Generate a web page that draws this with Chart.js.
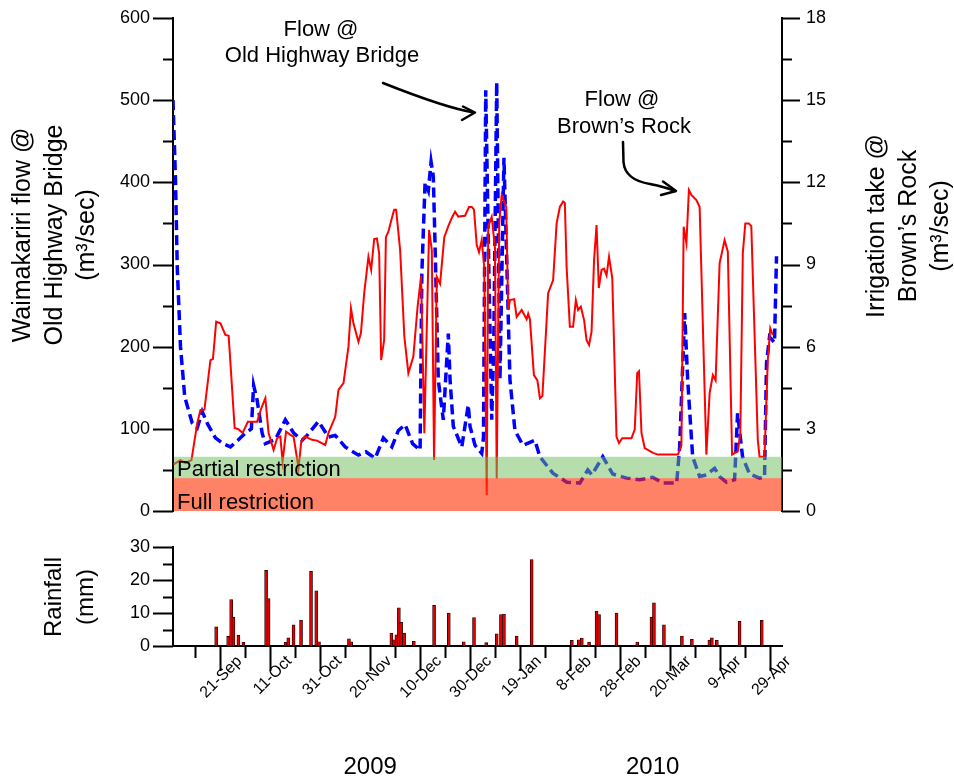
<!DOCTYPE html>
<html>
<head>
<meta charset="utf-8">
<script src="https://cdn.jsdelivr.net/npm/chart.js@4.4.1/dist/chart.umd.min.js"></script>
<style>
  html, body { margin: 0; padding: 0; background: #fff; }
  #wrap { position: relative; width: 954px; height: 778px; }
  #topChart { position: absolute; left: 0; top: 0; }
  #rainChart { position: absolute; left: 0; top: 530px; }
</style>
</head>
<body>
<div id="wrap">
  <canvas id="topChart" width="954" height="530" style="width:954px;height:530px"></canvas>
  <canvas id="rainChart" width="954" height="248" style="width:954px;height:248px"></canvas>
</div>
<script>
// days counted from 1 Sep 2009
const flowDays = [1, 2, 2.7, 4, 5.7, 8.7, 10.7, 12.7, 15, 18, 21, 24, 27, 30, 32.4, 33.3, 34.7, 36.7, 38, 42,
  46, 49.3, 52.7, 54.7, 59.3, 63.3, 66, 70, 75.3, 78.3, 82, 85.3, 88.7, 91.3, 94, 97, 100, 100.7, 102, 103.3,
  104.4, 105.3, 106, 107.3, 109.3, 111.3, 112, 113.3, 116.7, 119.3, 120, 122, 124.7, 125.4, 126.3, 127.5, 128.7, 129.5, 130.7, 132,
  133.6, 136, 138, 141.2, 146, 148, 153.2, 158.8, 164, 167.2, 168.8, 173.2, 177.2, 182.8, 188, 193.2, 197.2, 202.8, 204, 206,
  207.2, 209.2, 212, 214.8, 218, 220, 222.8, 226, 227.2, 229.2, 232, 236, 238, 238.8, 240, 242, 242.8];
const flowValues = [500, 403, 297, 200, 139, 107, 101, 121, 105, 89, 82, 78, 86, 95, 100, 153, 135, 95, 82, 87,
  111, 95, 86, 92, 109, 90, 92, 78, 68, 72, 64, 89, 78, 98, 105, 82, 74, 289, 400, 390,
  425, 407, 323, 159, 111, 216, 160, 103, 78, 129, 103, 80, 70, 90, 512, 300, 111, 200, 522, 160,
  430, 160, 98, 80, 86, 66, 46, 35, 34, 50, 44, 66, 45, 40, 38, 41, 34, 34, 78, 241,
  160, 66, 42, 44, 52, 42, 35, 38, 119, 66, 45, 40, 41, 180, 212, 205, 310];

const takeDays = [1.2, 4, 6, 8.4, 10.7, 12, 13.6, 16, 17, 18.3, 20, 22, 23.3, 25.7, 27.3, 28.9, 31, 34.7, 36.4, 38,
  39.3, 41.3, 42.7, 44, 44.9, 46.3, 48, 49.3, 51.3, 52.4, 54, 56.7, 58.7, 62, 63.3, 66, 67.3, 69.3, 71.3, 72.3,
  73.3, 75.3, 76.3, 77.6, 79.3, 80.4, 81.6, 82.7, 83.6, 84.4, 85.6, 86.3, 87.3, 88.7, 89.6, 90.4, 92, 93.7, 95.3, 97.3,
  99, 100.4, 101.7, 103.6, 104.7, 105.6, 106.7, 108, 109.7, 111.3, 112.7, 114, 115.3, 118, 119.6, 120.7, 121.6, 122.7, 123.6, 124.7,
  125.7, 126.7, 127.3, 128.7, 130, 130.7, 131.7, 132.7, 134.5, 135.3, 136, 137.7, 138.7, 140.7, 142.7, 143.3, 144, 145.6, 147, 148,
  149, 150.7, 151.3, 153.3, 154.7, 156, 157.3, 158, 158.7, 160, 161.3, 162.4, 163.3, 164.4, 165.7, 166.7, 167.7, 168.7, 169.7, 170.7,
  171.6, 172.7, 173.7, 174.7, 175.7, 177, 178.7, 179.7, 181, 184.7, 186, 187, 187.7, 188.7, 190, 193.3, 195.3, 203.3, 204.7, 205.6,
  206.7, 207.7, 208.7, 210.7, 212, 214.7, 216, 217.3, 218.4, 220, 222, 223.3, 225, 227.3, 228.3, 229.3, 230.3, 231.7, 232.7, 235.3,
  236, 238, 239.3, 240.3, 241.3];
const takeValues = [1.7, 1.86, 1.75, 1.86, 3.2, 3.69, 3.7, 5.51, 5.55, 6.91, 6.85, 6.43, 6.4, 3.03, 2.98, 2.85, 3.26, 3.26, 3.76, 4.12,
  2.85, 2.23, 2.66, 2.72, 1.8, 2.9, 2.78, 2.72, 1.57, 2.54, 2.72, 2.6, 2.57, 2.41, 2.85, 3.44, 4.42, 4.67, 6.0, 7.4,
  6.85, 6.18, 6.5, 7.95, 9.28, 8.8, 9.93, 9.95, 9.41, 5.51, 6.24, 10.0, 10.2, 10.7, 11.0, 11.0, 9.53, 6.36, 5.03, 5.64,
  7.46, 8.58, 2.84, 10.26, 9.53, 1.86, 8.55, 8.3, 10.0, 10.4, 10.7, 10.93, 10.75, 10.78, 11.1, 11.1, 11.0, 9.71, 9.45, 9.9,
  8.9, 0.58, 10.4, 10.74, 9.6, 1.2, 10.5, 11.54, 11.1, 7.34, 7.7, 7.73, 7.09, 7.34, 7.0, 7.2, 7.0, 4.96, 4.77, 4.12,
  4.2, 6.97, 7.95, 8.43, 10.5, 11.1, 11.3, 11.25, 8.92, 6.73, 6.73, 7.7, 7.34, 7.46, 6.97, 6.24, 6.06, 6.55, 9.16, 10.44,
  8.14, 8.8, 8.85, 8.6, 9.28, 8.5, 2.71, 2.48, 2.66, 2.66, 2.97, 5.03, 5.1, 2.85, 2.3, 2.12, 2.06, 2.06, 2.4, 10.38,
  9.78, 11.72, 11.54, 11.35, 11.1, 2.06, 4.3, 4.96, 4.77, 9.04, 9.89, 9.47, 2.06, 2.18, 2.84, 9.41, 10.5, 10.5, 10.4, 2.6,
  1.98, 1.98, 5.5, 6.67, 6.43];

const rainDays = [18.3, 23.1, 24.3, 25.2, 27.2, 29.2, 38.3, 39.3, 46.1, 47.2, 49.3, 52.3, 56.3, 58.4, 59.5, 71.5, 72.4, 88.5, 89.5, 90.5,
  91.5, 92.4, 93.6, 97.5, 105.6, 111.5, 117.5, 121.6, 126.5, 130.7, 132.4, 133.6, 138.7, 144.7, 160.8, 163.6, 164.8, 167.7, 170.7, 171.7,
  178.7, 187, 192.7, 193.7, 197.7, 204.9, 208.9, 215.9, 216.9, 218.9, 228, 236.9];
const rainValues = [5.8, 2.9, 14.1, 8.8, 3.3, 1.1, 22.9, 14.4, 1.1, 2.5, 6.4, 7.8, 22.6, 16.7, 1.3, 2.2, 1.3, 3.9, 1.9, 3.4,
  11.6, 7.2, 3.9, 1.4, 12.3, 10.0, 1.3, 8.6, 1.0, 3.7, 9.5, 9.7, 3.0, 26.2, 1.7, 1.9, 2.4, 1.2, 10.6, 9.5,
  10.0, 1.2, 8.7, 13.1, 6.4, 3.0, 2.0, 1.8, 2.5, 1.7, 7.5, 7.8];

const tickDays = [20, 40, 60, 80, 100, 120, 140, 160, 180, 200, 220, 240];
const tickLabels = ['21-Sep', '11-Oct', '31-Oct', '20-Nov', '10-Dec', '30-Dec', '19-Jan', '8-Feb', '28-Feb', '20-Mar', '9-Apr', '29-Apr'];
const yearLabels = ['2009', '2010'];
const yearDays = [80, 193.2];

const fullRestriction = 40;     // m3/s
const partialRestriction = 66;  // m3/s

const FONT = "'Liberation Sans', Arial, Helvetica, sans-serif";
Chart.defaults.font.family = FONT;
Chart.defaults.color = '#000';

function pairs(xs, ys) { return xs.map((x, i) => ({ x: x, y: ys[i] })); }

// fixed axis width, and no extra label padding above/below the plot
function fixWidth(w) {
  return s => { s.width = w; s.paddingTop = 0; s.paddingBottom = 0; };
}

function tickMarks(ctx, scale, from, to, step, majorEvery, majorLen, minorLen, dir) {
  ctx.save();
  ctx.strokeStyle = '#000';
  ctx.lineWidth = 2;
  ctx.beginPath();
  for (let v = from; v <= to + 1e-9; v += step) {
    const major = Math.abs(v / majorEvery - Math.round(v / majorEvery)) < 1e-6;
    const len = major ? majorLen : minorLen;
    if (scale.axis === 'y') {
      const y = Math.round(scale.getPixelForValue(v)) + 0.5;
      const x0 = dir < 0 ? scale.right : scale.left;
      ctx.moveTo(x0, y);
      ctx.lineTo(x0 + dir * len, y);
    } else {
      const x = Math.round(scale.getPixelForValue(v)) + 0.5;
      ctx.moveTo(x, scale.top);
      ctx.lineTo(x, scale.top + len);
    }
  }
  ctx.stroke();
  ctx.restore();
}

function rotatedLines(ctx, lines, cx, cy, gap, size) {
  ctx.save();
  ctx.translate(cx, cy);
  ctx.rotate(-Math.PI / 2);
  ctx.font = size + 'px ' + FONT;
  ctx.fillStyle = '#000';
  ctx.textAlign = 'center';
  ctx.textBaseline = 'middle';
  lines.forEach((t, i) => ctx.fillText(t, 0, (i - (lines.length - 1) / 2) * gap));
  ctx.restore();
}

function arrowHead(ctx, tip, a, b) {
  ctx.beginPath();
  ctx.moveTo(a[0], a[1]);
  ctx.lineTo(tip[0], tip[1]);
  ctx.lineTo(b[0], b[1]);
  ctx.stroke();
}

const topDecor = {
  id: 'topDecor',
  afterDatasetsDraw(chart) {
    const { ctx, chartArea: area, scales } = chart;
    const yL = scales.yL;
    const yPartial = yL.getPixelForValue(partialRestriction);
    const yFull = yL.getPixelForValue(fullRestriction);
    const y0 = yL.getPixelForValue(0);

    ctx.save();
    ctx.fillStyle = 'rgba(110, 190, 90, 0.5)';
    ctx.fillRect(area.left + 1, yPartial, area.right - area.left - 1, yFull - yPartial);
    ctx.fillStyle = 'rgba(255, 47, 0, 0.6)';
    ctx.fillRect(area.left + 1, yFull, area.right - area.left - 1, y0 - yFull);

    ctx.fillStyle = '#000';
    ctx.font = '22px ' + FONT;
    ctx.textAlign = 'left';
    ctx.textBaseline = 'alphabetic';
    ctx.fillText('Partial restriction', area.left + 4, yFull - 2);
    ctx.fillText('Full restriction', area.left + 4, y0 - 2);
    ctx.restore();

    tickMarks(ctx, yL, 0, 600, 50, 100, 20, 10, -1);
    tickMarks(ctx, scales.yR, 0, 18, 1.5, 3, 18, 10, 1);

    // annotations
    ctx.save();
    ctx.fillStyle = '#000';
    ctx.font = '22px ' + FONT;
    ctx.textAlign = 'center';
    ctx.textBaseline = 'middle';
    ctx.fillText('Flow @', 321, 30);
    ctx.fillText('Old Highway Bridge', 322, 56);
    ctx.fillText('Flow @', 622, 100);
    ctx.fillText('Brown\u2019s Rock', 624, 127);

    ctx.strokeStyle = '#000';
    ctx.lineWidth = 2.5;
    ctx.lineCap = 'round';
    ctx.lineJoin = 'round';
    ctx.beginPath();
    ctx.moveTo(383, 83);
    ctx.quadraticCurveTo(446, 108, 474, 112.5);
    ctx.stroke();
    arrowHead(ctx, [475, 112.5], [463, 106.5], [462, 120]);

    ctx.beginPath();
    ctx.moveTo(623, 142);
    ctx.lineTo(623.5, 162);
    ctx.quadraticCurveTo(625, 180, 650, 184);
    ctx.quadraticCurveTo(665, 187, 675, 191);
    ctx.stroke();
    arrowHead(ctx, [676, 191], [663, 181.5], [661, 195]);
    ctx.restore();

    rotatedLines(ctx, ['Waimakariri flow @', 'Old Highway Bridge', '(m\u00b3/sec)'], 55, 235, 32, 25);
    rotatedLines(ctx, ['Irrigation take @', 'Brown\u2019s Rock', '(m\u00b3/sec)'], 909, 226, 32, 25);
  }
};

new Chart(document.getElementById('topChart'), {
  type: 'line',
  data: {
    datasets: [
      { label: 'Irrigation take', data: pairs(takeDays, takeValues), yAxisID: 'yR',
        borderColor: '#ff0000', borderWidth: 2, pointRadius: 0, tension: 0 },
      { label: 'Flow', data: pairs(flowDays, flowValues), yAxisID: 'yL',
        borderColor: '#0000ff', borderWidth: 3.5, borderDash: [10, 5], pointRadius: 0, tension: 0 }
    ]
  },
  options: {
    responsive: false,
    animation: false,
    events: [],
    layout: { autoPadding: false, padding: { top: 18, bottom: 19, left: 0, right: 0 } },
    plugins: { legend: { display: false }, tooltip: { enabled: false } },
    scales: {
      x: { type: 'linear', min: 1, max: 245, display: false },
      yL: {
        position: 'left', min: 0, max: 600,
        afterFit: fixWidth(173),
        grid: { display: false, drawTicks: false },
        border: { display: true, color: '#000', width: 2 },
        ticks: { stepSize: 100, padding: 23, font: { size: 18 }, color: '#000' }
      },
      yR: {
        position: 'right', min: 0, max: 18,
        afterFit: fixWidth(172),
        grid: { display: false, drawTicks: false },
        border: { display: true, color: '#000', width: 2 },
        ticks: { stepSize: 3, padding: 24, font: { size: 18 }, color: '#000' }
      }
    }
  },
  plugins: [topDecor]
});

const rainDecor = {
  id: 'rainDecor',
  afterDatasetsDraw(chart) {
    const { ctx, scales } = chart;
    tickMarks(ctx, scales.y, 0, 30, 5, 10, 20, 10, -1);
    tickMarks(ctx, scales.x, 10, 240, 10, 20, 25, 12, 1);
    rotatedLines(ctx, ['Rainfall', '(mm)'], 70, 67, 32, 24);
    ctx.save();
    ctx.fillStyle = '#000';
    ctx.font = '24px ' + FONT;
    ctx.textAlign = 'center';
    ctx.textBaseline = 'middle';
    yearLabels.forEach((t, i) => ctx.fillText(t, scales.x.getPixelForValue(yearDays[i]), 237));
    ctx.restore();
  }
};

new Chart(document.getElementById('rainChart'), {
  type: 'bar',
  data: {
    datasets: [{
      label: 'Rainfall', data: pairs(rainDays, rainValues),
      backgroundColor: '#e00000', borderColor: '#200000', borderWidth: 0.8,
      barThickness: 3, borderSkipped: false
    }]
  },
  options: {
    responsive: false,
    animation: false,
    events: [],
    layout: { autoPadding: false, padding: { top: 17, bottom: 0, left: 0, right: 172 } },
    plugins: { legend: { display: false }, tooltip: { enabled: false } },
    scales: {
      x: {
        type: 'linear', min: 1, max: 245, offset: false,
        afterFit: s => { s.height = 132; s.paddingLeft = 0; s.paddingRight = 0; },
        afterBuildTicks: s => { s.ticks = tickDays.map(v => ({ value: v })); },
        grid: { display: false, drawTicks: false },
        border: { display: true, color: '#000', width: 2 },
        ticks: {
          autoSkip: false, minRotation: 45, maxRotation: 45, padding: 6, labelOffset: 19,
          font: { size: 16 }, color: '#000',
          callback: v => tickLabels[tickDays.indexOf(v)]
        }
      },
      y: {
        min: 0, max: 30,
        afterFit: fixWidth(173),
        grid: { display: false, drawTicks: false },
        border: { display: true, color: '#000', width: 2 },
        ticks: { stepSize: 10, padding: 23, font: { size: 18 }, color: '#000' }
      }
    }
  },
  plugins: [rainDecor]
});
</script>
</body>
</html>
